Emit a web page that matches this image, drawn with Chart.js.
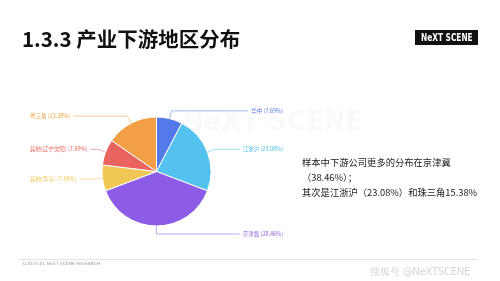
<!DOCTYPE html>
<html>
<head>
<meta charset="utf-8">
<script src="https://cdn.jsdelivr.net/npm/chart.js@4"></script>
<style>
  body { margin: 0; background: #fff; }
  #wrap { position: relative; width: 500px; height: 281px; overflow: hidden; font-family: "Noto Sans CJK SC", "Noto Sans", sans-serif; }
  #grafico { position: absolute; left: 0; top: 0; }
  .titulo { position: absolute; left: 22px; top: 24px; font-size: 20.5px; font-weight: bold; color: #111; white-space: nowrap; line-height: 28px; }
  .logo { position: absolute; left: 415px; top: 30px; width: 63px; height: 15px; background: #111; color: #fff; font-family: "DejaVu Sans", sans-serif; font-weight: bold; font-size: 10px; line-height: 15px; text-align: center; white-space: nowrap; overflow: hidden; }
  .logo span { display: inline-block; transform: scaleX(0.74); transform-origin: center; margin: 0 -12px; }
  .texto { position: absolute; left: 302px; top: 155px; font-size: 9.3px; color: #222; line-height: 15px; white-space: nowrap; }
  .linha { position: absolute; left: 20px; top: 259px; width: 458px; height: 1px; background: #e2e2e2; }
  .rodape { position: absolute; left: 22px; top: 261px; font-size: 4.5px; color: #999; white-space: nowrap; font-family: "DejaVu Sans", sans-serif; }
  .sohu { position: absolute; left: 370px; top: 265px; font-size: 10px; color: #d6d6d6; white-space: nowrap; font-family: "DejaVu Sans", sans-serif; letter-spacing: -0.2px; }
  .marca { position: absolute; left: 182px; top: 106px; font-size: 26px; font-weight: bold; color: rgba(200,200,200,0.09); white-space: nowrap; font-family: "DejaVu Sans", sans-serif; }
</style>
</head>
<body>
<div id="wrap">
  <canvas id="grafico" width="500" height="281"></canvas>
  <div class="marca">NeXT SCENE</div>
  <div class="titulo">1.3.3 产业下游地区分布</div>
  <div class="logo"><span>NeXT SCENE</span></div>
  <div class="texto">样本中下游公司更多的分布在京津冀<br>（38.46%）；<br>其次是江浙沪（23.08%）和珠三角15.38%</div>
  <div class="linha"></div>
  <div class="rodape">©2023.01 NeXT SCENE ReSEARCH</div>
  <div class="sohu">搜狐号 @NeXTSCENE</div>
</div>
<script>
const regioes = ['华中', '江浙沪', '京津冀', '其他(华东)', '其他(辽宁沈阳)', '粤三角'];
const percentuais = [7.69, 23.08, 38.46, 7.69, 7.69, 15.38];
const cores = ['#5479ea', '#53c2ee', '#8c5ce6', '#f0c655', '#e9635f', '#f29f45'];

// rotulos com linha de chamada, estilo do original
const rotulosPlugin = {
    id: 'rotulos',
    afterDatasetsDraw(chart) {
        const ctx = chart.ctx;
        const meta = chart.getDatasetMeta(0);
        ctx.save();
        ctx.font = '5.5px "Noto Sans CJK SC", sans-serif';
        ctx.textBaseline = 'middle';
        ctx.lineWidth = 0.8;
        meta.data.forEach(function (arco, i) {
            const mid = (arco.startAngle + arco.endAngle) / 2;
            const r = arco.outerRadius;
            const x0 = arco.x + Math.cos(mid) * r;
            const y0 = arco.y + Math.sin(mid) * r;
            const x1 = arco.x + Math.cos(mid) * (r + 8);
            const y1 = arco.y + Math.sin(mid) * (r + 8);
            const texto = `${regioes[i]} (${percentuais[i].toFixed(2)}%)`;
            const tw = ctx.measureText(texto).width;
            const direita = Math.cos(mid) >= -0.02;
            let x2, tx;
            if (direita) {
                tx = 283 - tw;
                x2 = tx - 3;
            } else {
                tx = 30;
                x2 = tx + tw + 3;
            }
            ctx.strokeStyle = cores[i] + 'aa';
            ctx.beginPath();
            ctx.moveTo(x0, y0);
            ctx.lineTo(x1, y1);
            ctx.lineTo(x2, y1);
            ctx.stroke();
            ctx.fillStyle = cores[i];
            ctx.textAlign = 'left';
            ctx.fillText(texto, tx, y1);
        });
        ctx.restore();
    }
};

const graficoPizza = new Chart(document.getElementById('grafico'), {
    type: 'pie',
    data: {
        labels: regioes,
        datasets: [{
            data: percentuais,
            backgroundColor: cores,
            borderColor: '#ffffff',
            borderWidth: 1
        }]
    },
    options: {
        responsive: false,
        animation: false,
        layout: {
            padding: { left: 101.5, right: 288.5, top: 116.5, bottom: 54.5 }
        },
        plugins: {
            legend: { display: false },
            tooltip: { enabled: false }
        }
    },
    plugins: [rotulosPlugin]
});
</script>
</body>
</html>
